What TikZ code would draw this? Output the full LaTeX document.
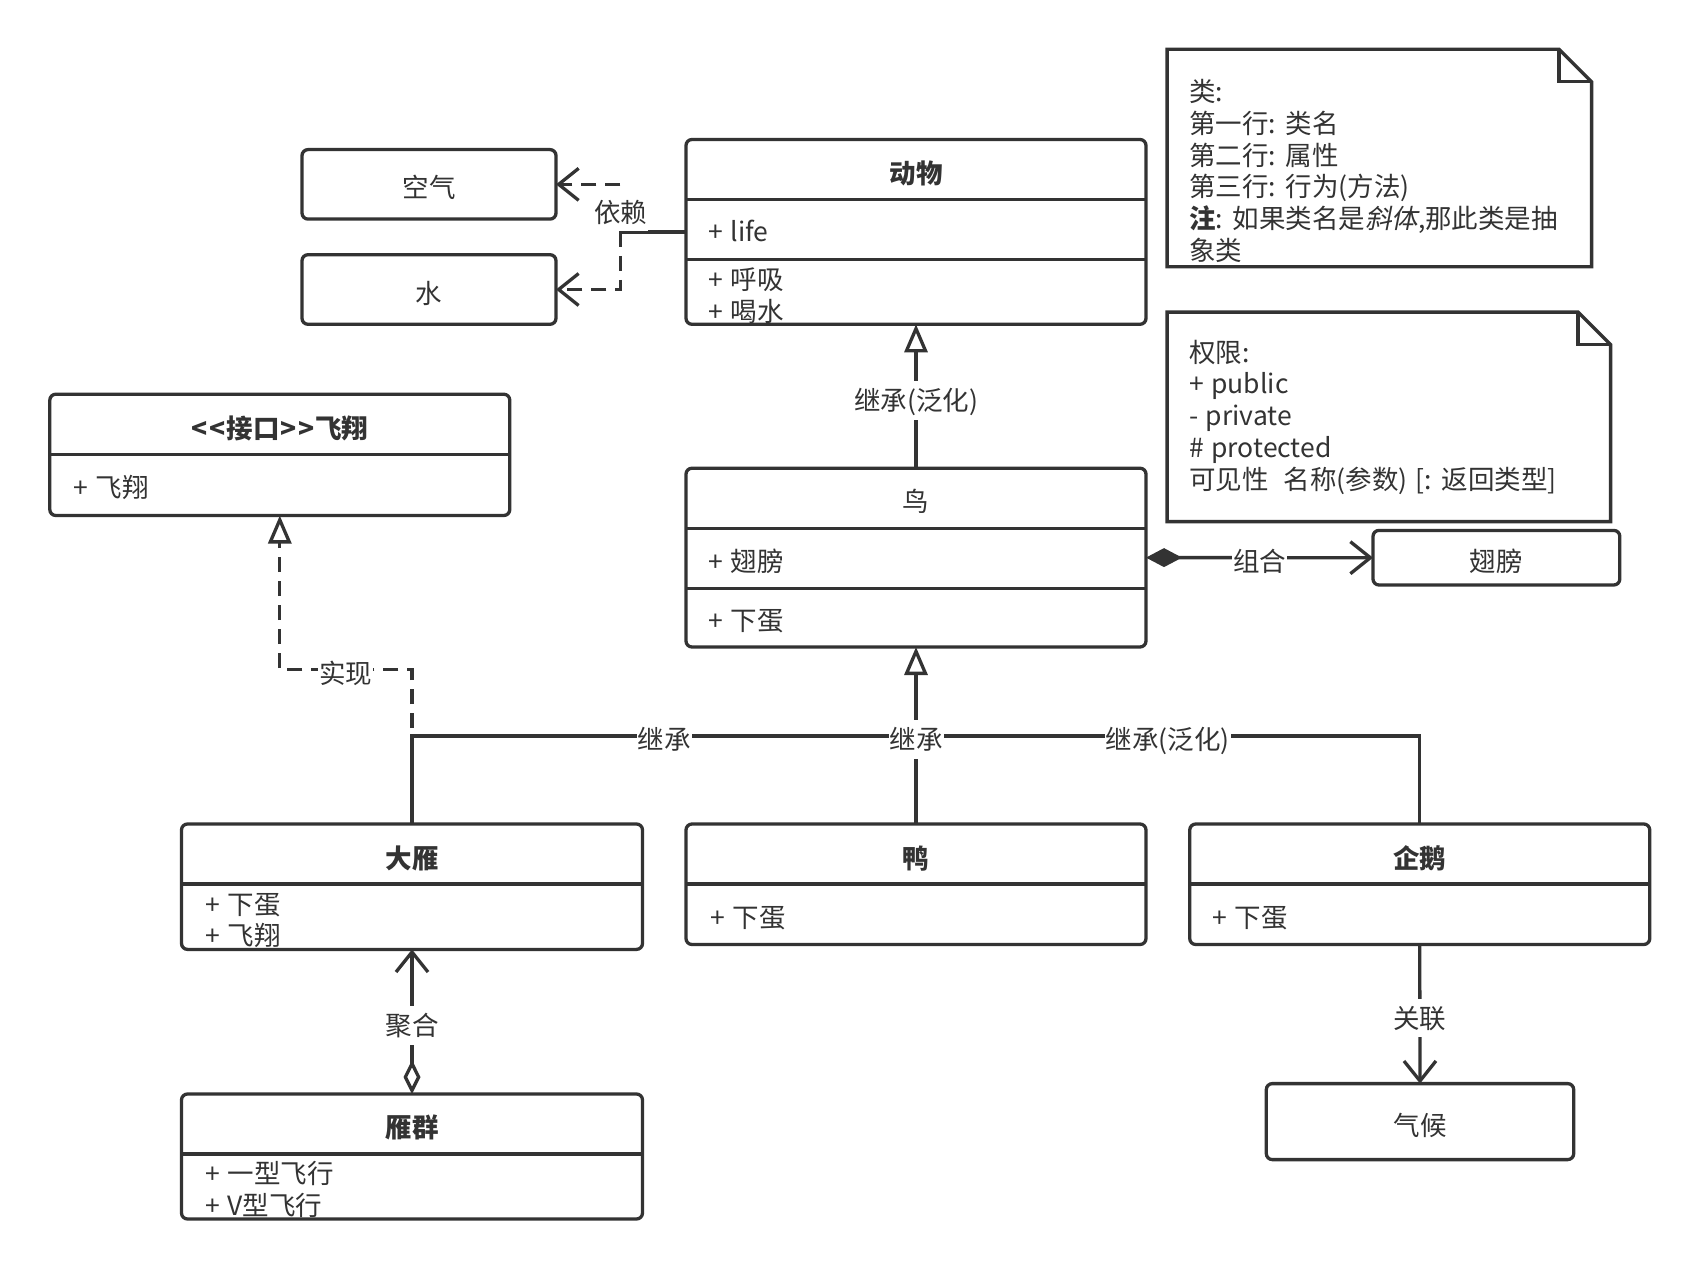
\documentclass[tikz,border=0pt]{standalone}
\usepackage{fontspec}
\setmainfont{Noto Sans CJK SC}[AutoFakeSlant=0.2, WordSpace=1.3]
\usetikzlibrary{arrows.meta}
\definecolor{linegray}{HTML}{333333}
\newcommand{\umlfont}{\fontsize{26.5}{31.8}\selectfont}

\begin{document}
\begin{tikzpicture}[x=1pt, y=-1pt,
    classbox/.style ={draw=linegray, line width=3.3pt, rounded corners=6pt, inner sep=0pt, outer sep=0pt,
      text=linegray, font=\umlfont, text height=30.3pt, text depth=3.2pt},
    divider/.style ={draw=linegray, line width=3.3pt},
    classname/.style ={inner sep=0pt, text=linegray, font=\umlfont\bfseries, text height=23.3pt, text depth=3.2pt},
    member/.style ={anchor=west, inner sep=0pt, text=linegray, font=\umlfont, text height=23.3pt, text depth=3.2pt},
    notebox/.style ={draw=linegray, line width=3.3pt, line join=miter},
    notetext/.style ={anchor=north west, align=left, inner sep=0pt, text=linegray, font=\umlfont},
    relation/.style ={draw=linegray, line width=3.3pt},
    depend/.style ={relation, dash pattern=on 15pt off 9pt, -{Straight Barb[length=20pt, width=32pt]}},
    realize/.style ={relation, dash pattern=on 15pt off 9pt, -{Triangle[open, length=28pt, width=23pt]}},
    inherit/.style ={relation, -{Triangle[open, length=28pt, width=23pt]}},
    compose/.style ={relation, {Diamond[length=36pt, width=19pt]}-{Straight Barb[length=20pt, width=32pt]}},
    aggregate/.style ={relation, {Diamond[open, length=34pt, width=17pt]}-{Straight Barb[length=20pt, width=32pt]}},
    associate/.style ={relation, -{Straight Barb[length=20pt, width=32pt]}},
    lbl/.style ={fill=white, text=linegray, font=\umlfont, inner xsep=1pt, inner ysep=6pt,
      text height=23.3pt, text depth=3.2pt, yshift=-4pt}]

  \useasboundingbox (0,0) rectangle (1700,1268);

  % classes
  \node[classbox, minimum width=460pt, minimum height=184.8pt] (animal) at (916,231.9) {};
  \draw[divider] ([yshift=-60pt]animal.north west) -- ([yshift=-60pt]animal.north east);
  \draw[divider] ([yshift=-120pt]animal.north west) -- ([yshift=-120pt]animal.north east);
  \node[classname] (animal-name) at (916,173.8) {动物};
  \node[member] (animal-life) at (708,231.7) {+ life};
  \node[member] (animal-breathe) at (708,279) {+ 呼吸};
  \node[member] (animal-drink) at (708,311.3) {+ 喝水};

  \node[classbox, minimum width=460pt, minimum height=121.3pt] (fly) at (279.8,454.85) {};
  \draw[divider] ([yshift=-60pt]fly.north west) -- ([yshift=-60pt]fly.north east);
  \node[classname] (fly-name) at (279.8,428.6) {<\kern2pt<\kern1pt接口\kern1pt>\kern2pt>飞翔};
  \node[member] (fly-fly) at (73,487.2) {+ 飞翔};

  \node[classbox, minimum width=460pt, minimum height=178.8pt] (bird) at (916,557.6) {};
  \draw[divider] ([yshift=-60pt]bird.north west) -- ([yshift=-60pt]bird.north east);
  \draw[divider] ([yshift=-120pt]bird.north west) -- ([yshift=-120pt]bird.north east);
  \node[classname, font=\umlfont] (bird-name) at (916,501.3) {鸟};
  \node[member] (bird-wing) at (708,561.2) {+ 翅膀};
  \node[member] (bird-egg) at (708,620.6) {+ 下蛋};

  \node[classbox, minimum width=461pt, minimum height=125.4pt] (goose) at (412,886.7) {};
  \draw[divider] ([yshift=-60pt]goose.north west) -- ([yshift=-60pt]goose.north east);
  \node[classname] (goose-name) at (412,858.4) {大雁};
  \node[member] (goose-egg) at (205,904) {+ 下蛋};
  \node[member] (goose-fly) at (205,935.6) {+ 飞翔};

  \node[classbox, minimum width=460pt, minimum height=120.5pt] (duck) at (916,884.25) {};
  \draw[divider] ([yshift=-60pt]duck.north west) -- ([yshift=-60pt]duck.north east);
  \node[classname] (duck-name) at (916,858.4) {鸭};
  \node[member] (duck-egg) at (710,917) {+ 下蛋};

  \node[classbox, minimum width=460pt, minimum height=120.5pt] (penguin) at (1419.75,884.25) {};
  \draw[divider] ([yshift=-60pt]penguin.north west) -- ([yshift=-60pt]penguin.north east);
  \node[classname] (penguin-name) at (1419.75,858.4) {企鹅};
  \node[member] (penguin-egg) at (1212,917.5) {+ 下蛋};

  \node[classbox, minimum width=461pt, minimum height=125pt] (flock) at (412,1156.5) {};
  \draw[divider] ([yshift=-60pt]flock.north west) -- ([yshift=-60pt]flock.north east);
  \node[classname] (flock-name) at (412,1127.2) {雁群};
  \node[member] (flock-line) at (205,1173.7) {+ 一型飞行};
  \node[member] (flock-vee) at (205,1205.3) {+ V型飞行};

  \node[classbox, minimum width=254pt, minimum height=69.5pt] (air) at (429,184.35) {空气};
  \node[classbox, minimum width=254pt, minimum height=69.6pt] (water) at (429,289.5) {水};
  \node[classbox, minimum width=246.8pt, minimum height=54.6pt] (wing) at (1496.4,557.7) {翅膀};
  \node[classbox, minimum width=307.4pt, minimum height=76pt] (climate) at (1420,1121.6) {气候};

  % notes
  \draw[notebox] (1167.1,49.3) -- (1559.1,49.3) -- (1591.6,81.8) -- (1591.6,266.8) -- (1167.1,266.8) -- cycle;
  \draw[notebox] (1559.1,49.3) -- (1559.1,81.8) -- (1591.6,81.8);
  \node[notetext] (classnote) at (1188.8,79) {类:\\第一行: 类名\\第二行: 属性\\第三行: 行为(方法)\\\textbf{注}: 如果类名是\textit{斜体},那此类是抽\\象类};

  \draw[notebox] (1167.1,312.1) -- (1578.1,312.1) -- (1610.6,344.6) -- (1610.6,521.6) -- (1167.1,521.6) -- cycle;
  \draw[notebox] (1578.1,312.1) -- (1578.1,344.6) -- (1610.6,344.6);
  \node[notetext] (accessnote) at (1188.8,339.7) {权限:\\+ public\\- private\\\# protected\\可见性\ \ 名称(参数) [: 返回类型]};

  % relations
  \coordinate (dep) at (620.7,231.9);
  \draw[relation] (animal.west) -- (dep);
  \draw[depend] (dep) |- (air.east) node[lbl, pos=0.25] {依赖};
  \draw[depend] (dep) |- (water.east);

  \draw[inherit] (bird.north) -- (animal.south) node[lbl, pos=0.5] {继承(泛化)};
  \draw[compose] (bird.east) -- (wing.west) node[lbl, pos=0.5] {组合};

  \draw[realize] (goose.north) -- ++(0,-154.4) -| (fly.south) node[lbl, pos=0.25] {实现};

  \coordinate (split) at (916,735.9);
  \draw[relation] (goose.north) |- (split) node[lbl, pos=0.75] {继承};
  \draw[relation] (penguin.north) |- (split) node[lbl, pos=0.75] {继承(泛化)};
  \draw[inherit] (duck.north) -- (bird.south) node[lbl, pos=0.5] {继承};

  \draw[aggregate] (flock.north) -- (goose.south) node[lbl, pos=0.5] {聚合};
  \draw[associate] (penguin.south) -- (climate.north) node[lbl, pos=0.5] {关联};
\end{tikzpicture}
\end{document}
